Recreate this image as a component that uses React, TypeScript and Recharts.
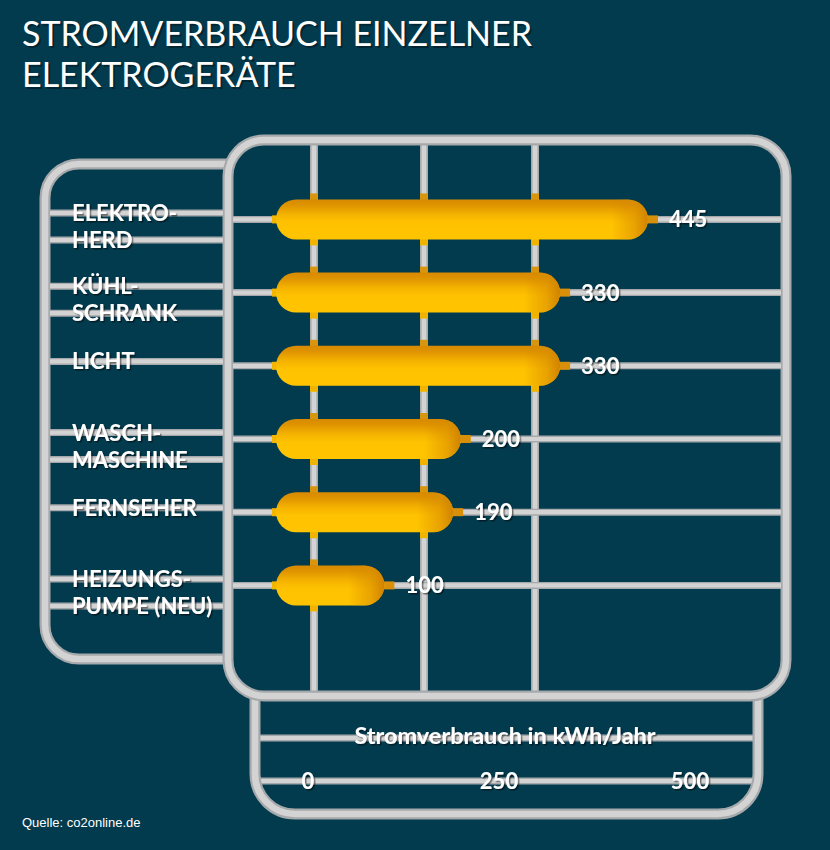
import React from 'react';
import { BarChart, Bar, XAxis, YAxis, LabelList } from 'recharts';

// ---------- data ----------
const categories = [
  'ELEKTRO-\nHERD',
  'KÜHL-\nSCHRANK',
  'LICHT',
  'WASCH-\nMASCHINE',
  'FERNSEHER',
  'HEIZUNGS-\nPUMPE (NEU)',
];
const values = [445, 330, 330, 200, 190, 100];
const xTicks = [0, 250, 500];
const titleLines = ['STROMVERBRAUCH EINZELNER', 'ELEKTROGERÄTE'];
const axisTitle = 'Stromverbrauch in kWh/Jahr';
const sourceText = 'Quelle: co2online.de';

const data = categories.map((name, i) => ({ name, value: values[i] }));

// ---------- style constants ----------
const BG = '#033b4e';
const ROD_DARK = '#a6a9ab';
const ROD_LIGHT = '#d3d3d3';
const FONT = "Lato, 'Open Sans', sans-serif";
const DECOR_RODS_X = [314, 424, 535];

const Rod = ({ d, w }: { d: string; w: number }) => (
  <g>
    <path d={d} stroke={ROD_DARK} strokeWidth={w} fill="none" />
    <path d={d} stroke={ROD_LIGHT} strokeWidth={w * 0.6} fill="none" />
  </g>
);

const ShadowText = ({
  x,
  y,
  text,
  size,
  anchor = 'start',
  weight = 700,
}: {
  x: number;
  y: number;
  text: string;
  size: number;
  anchor?: string;
  weight?: number;
}) => (
  <text
    x={x}
    y={y}
    fill="#ffffff"
    fontFamily={FONT}
    fontSize={size}
    fontWeight={weight}
    textAnchor={anchor}
    filter="url(#txtShadow)"
  >
    {text}
  </text>
);

const CategoryTick = (props: any) => {
  const { y, payload } = props;
  const lines = String(payload.value).split('\n');
  const ys = lines.length === 1 ? [y - 4] : [y - 6, y + 21];
  return (
    <g>
      {ys.map((ly, i) => (
        <Rod key={'r' + i} d={`M 50 ${ly} H 223`} w={7} />
      ))}
      {lines.map((t, i) => (
        <ShadowText key={'t' + i} x={72} y={ys[i] + 8} text={t} size={22} />
      ))}
    </g>
  );
};

const ValueTick = (props: any) => {
  const { x, payload } = props;
  return <ShadowText x={x} y={789} text={String(payload.value)} size={22} anchor="middle" />;
};

const Pill = (props: any) => {
  const { x, y, width, height, index } = props;
  const cy = y + height / 2;
  const left = x - 32;
  const right = x + width;
  const r = height / 2;
  const gid = `pillR${index}`;
  return (
    <g>
      <defs>
        <linearGradient id={gid} gradientUnits="userSpaceOnUse" x1={right - 36} y1={0} x2={right} y2={0}>
          <stop offset="0" stopColor="#d38500" stopOpacity={0} />
          <stop offset="0.6" stopColor="#d88c00" stopOpacity={0.55} />
          <stop offset="1" stopColor="#d08200" stopOpacity={1} />
        </linearGradient>
      </defs>
      <Rod d={`M 233 ${cy} H 781`} w={7} />
      {DECOR_RODS_X.filter((rx) => rx > left + 8 && rx < right - 8).map((rx) => (
        <g key={rx}>
          <rect x={rx - 4} y={y - 6} width={8} height={7} fill="#d8950f" />
          <rect x={rx - 4} y={y + height - 1} width={8} height={7} fill="#efb300" />
        </g>
      ))}
      <rect x={right - 4} y={cy - 4} width={14} height={8} fill="#d88f0a" />
      <rect x={left - 4} y={cy - 4} width={8} height={8} fill="#f2b600" />
      <rect x={left} y={y} width={right - left} height={height} rx={r} ry={r} fill="url(#pillV)" />
      <rect x={left} y={y} width={right - left} height={height} rx={r} ry={r} fill={`url(#${gid})`} />
    </g>
  );
};

const ValueLabel = (p: any) => (
  <ShadowText x={p.x + p.width + 21} y={p.y + p.height / 2 + 8} text={String(p.value)} size={22} />
);

// frame geometry (decoration)
const mainFrame = (() => {
  const l = 228, rgt = 786, t = 140, b = 696, r = 36;
  return `M ${l} ${t + r} A ${r} ${r} 0 0 1 ${l + r} ${t} H ${rgt - r} A ${r} ${r} 0 0 1 ${rgt} ${t + r} V ${b - r} A ${r} ${r} 0 0 1 ${rgt - r} ${b} H ${l + r} A ${r} ${r} 0 0 1 ${l} ${b - r} Z`;
})();
const leftFrame = (() => {
  const l = 45, t = 164, b = 659, r = 34;
  return `M 228 ${t} H ${l + r} A ${r} ${r} 0 0 0 ${l} ${t + r} V ${b - r} A ${r} ${r} 0 0 0 ${l + r} ${b} H 228`;
})();
const bottomFrame = (() => {
  const l = 255, rgt = 758, t = 696, b = 814, r = 40;
  return `M ${l} ${t} V ${b - r} A ${r} ${r} 0 0 0 ${l + r} ${b} H ${rgt - r} A ${r} ${r} 0 0 0 ${rgt} ${b - r} V ${t}`;
})();

export default function App() {
  const titleStyle: React.CSSProperties = {
    position: 'absolute',
    left: 22,
    fontFamily: FONT,
    fontSize: 34,
    lineHeight: '41px',
    color: '#ffffff',
    textShadow: '2px 2px 0 rgba(0,0,0,0.35)',
    whiteSpace: 'nowrap',
  };
  return (
    <div
      style={{
        position: 'absolute',
        left: 0,
        top: 0,
        width: 830,
        height: 850,
        background: BG,
        overflow: 'hidden',
      }}
    >
      <div style={{ ...titleStyle, top: 12 }}>{titleLines[0]}</div>
      <div style={{ ...titleStyle, top: 53 }}>{titleLines[1]}</div>

      <svg style={{ position: 'absolute', left: 0, top: 0 }} width={830} height={850}>
        <defs>
          <linearGradient id="pillV" x1="0" y1="0" x2="0" y2="1">
            <stop offset="0" stopColor="#d88a00" />
            <stop offset="0.14" stopColor="#de9300" />
            <stop offset="0.38" stopColor="#f4b300" />
            <stop offset="0.58" stopColor="#ffc200" />
            <stop offset="1" stopColor="#ffc400" />
          </linearGradient>
          <filter id="txtShadow" x="-10%" y="-30%" width="130%" height="170%">
            <feDropShadow dx="1.5" dy="1.5" stdDeviation="0.3" floodColor="#000000" floodOpacity="0.5" />
          </filter>
        </defs>
        {DECOR_RODS_X.map((rx) => (
          <Rod key={rx} d={`M ${rx} 145 V 691`} w={8} />
        ))}
        <Rod d="M 260 738 H 753" w={7} />
        <Rod d="M 260 781 H 753" w={7} />
        <Rod d={leftFrame} w={11} />
        <Rod d={bottomFrame} w={11} />
        <Rod d={mainFrame} w={11} />
        <ShadowText x={505} y={744} text={axisTitle} size={23.5} anchor="middle" />
      </svg>

      <div style={{ position: 'absolute', left: 0, top: 0 }}>
        <BarChart
          width={830}
          height={850}
          layout="vertical"
          data={data}
          margin={{ top: 182.4, right: 63.6, bottom: 198.4, left: 0 }}
        >
          <XAxis
            type="number"
            domain={[0, 600]}
            ticks={xTicks}
            interval={0}
            axisLine={false}
            tickLine={false}
            height={30}
            tick={(p: any) => <ValueTick {...p} />}
          />
          <YAxis
            type="category"
            dataKey="name"
            width={308}
            interval={0}
            axisLine={false}
            tickLine={false}
            tick={(p: any) => <CategoryTick {...p} />}
          />
          <Bar
            dataKey="value"
            barSize={40}
            isAnimationActive={false}
            shape={(p: any) => <Pill {...p} />}
          >
            <LabelList dataKey="value" content={(p: any) => <ValueLabel {...p} />} />
          </Bar>
        </BarChart>
      </div>

      <div
        style={{
          position: 'absolute',
          left: 22,
          top: 815,
          fontFamily: "'Liberation Sans', Arial, sans-serif",
          fontSize: 13,
          color: '#ffffff',
          whiteSpace: 'nowrap',
        }}
      >
        {sourceText}
      </div>
    </div>
  );
}
